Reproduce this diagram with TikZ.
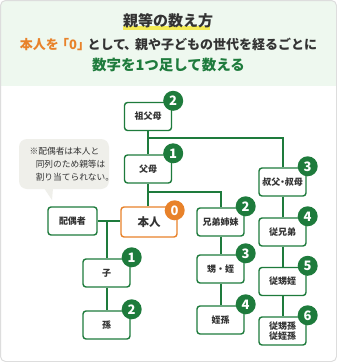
\documentclass[tikz,border=0pt]{standalone}
\usepackage{fontspec}
\newfontfamily\jp{Noto Sans CJK JP}
\definecolor{gr}{HTML}{1E7B3C}
\definecolor{orng}{HTML}{E8822A}
\definecolor{hdr}{HTML}{EEF8EF}
\definecolor{txt}{HTML}{333333}
\definecolor{callbg}{HTML}{EFEFEA}
\definecolor{hl}{HTML}{F3EB55}
\definecolor{bord}{HTML}{DDDDDD}
\begin{document}
\begin{tikzpicture}[x=1pt,y=-1pt,
 box/.style={draw=gr, line width=1.4pt, rounded corners=3pt, fill=white, minimum width=47pt, minimum height=28pt, inner sep=0pt, font=\jp\bfseries\fontsize{9}{10}\selectfont, text=txt, align=center},
 badge/.style={circle, fill=gr, text=white, minimum size=20pt, inner sep=0pt, font=\jp\bfseries\fontsize{13}{13}\selectfont},
 link/.style={draw=gr, line width=2pt}]
\useasboundingbox (0,0) rectangle (337,362);
\begin{scope}
\clip[rounded corners=5pt] (0.5,0.5) rectangle (336.5,361.5);
\fill[white] (0,0) rectangle (337,362);
\fill[hdr] (0,0) rectangle (337,86);
\end{scope}
\draw[bord, line width=1pt, rounded corners=5pt] (0.5,0.5) rectangle (336.5,361.5);
% header
\fill[hl] (123,26) rectangle (210,30);
\node[font=\jp\bfseries\fontsize{15}{15}\selectfont, text=txt] (title) at (168,21) {親等の数え方};
\node[font=\jp\bfseries\fontsize{13}{13}\selectfont, text=txt] (l2) at (168.5,44) {\textcolor{orng}{本人を\kern-0.2em「0」\kern-0.2em}として\kern-0.15em、\kern-0.15em親や子どもの世代を経るごとに};
\node[font=\jp\bfseries\fontsize{14.5}{14.5}\selectfont, text=gr] (l3) at (168.5,65) {数字を1つ足して数える};
% callout
\fill[callbg, rounded corners=8pt] (19,139) rectangle (109,189);
\fill[callbg] (44,188) -- (53,188) -- (52,200) -- cycle;
\node[anchor=north west, font=\jp\fontsize{8.7}{13}\selectfont, text=txt, align=left, inner sep=0pt] (note) at (29.5,147) {※配偶者は本人と\\\hspace{0.7em}同列のため親等は\\\hspace{0.7em}割り当てられない。};
% boxes
\node[box] (gp) at (148,116.5) {祖父母};
\node[box] (p) at (148,169) {父母};
\node[box, draw=orng, minimum width=56pt, minimum height=30pt, font=\jp\bfseries\fontsize{11.5}{12}\selectfont] (me) at (149,222) {本人};
\node[box, minimum width=49pt] (sp) at (72.5,221) {配偶者};
\node[box] (ch) at (106.5,273) {子};
\node[box] (gc) at (106.5,325) {孫};
\node[box] (sib) at (220.5,222) {兄弟姉妹};
\node[box] (nep) at (220.5,269) {甥・姪};
\node[box] (gnep) at (220.5,320) {姪孫};
\node[box] (unc) at (282.5,182) {叔父\kern-0.25em・\kern-0.25em叔母};
\node[box] (cou) at (282.5,232) {従兄弟};
\node[box] (cch) at (282.5,281.5) {従甥姪};
\node[box] (cgc) at (282.5,331) {従甥孫\\従姪孫};
% badges
\node[badge] (bgp) at ([shift={(1,-1)}]gp.north east) {2};
\node[badge] (bp) at ([shift={(1,-1)}]p.north east) {1};
\node[badge, fill=orng] (bme) at ([shift={(-3,4)}]me.north east) {0};
\node[badge] (bch) at ([shift={(1,-1)}]ch.north east) {1};
\node[badge] (bgc) at ([shift={(1,-1)}]gc.north east) {2};
\node[badge] (bsib) at ([shift={(1,-1)}]sib.north east) {2};
\node[badge] (bnep) at ([shift={(1,-1)}]nep.north east) {3};
\node[badge] (bgnep) at ([shift={(1,-1)}]gnep.north east) {4};
\node[badge] (bunc) at ([shift={(1,-1)}]unc.north east) {3};
\node[badge] (bcou) at ([shift={(1,-1)}]cou.north east) {4};
\node[badge] (bcch) at ([shift={(1,-1)}]cch.north east) {5};
\node[badge] (bcgc) at ([shift={(1,-1)}]cgc.north east) {6};
% connectors
\coordinate (j1) at (148,138);
\coordinate (j2) at (148,192);
\coordinate (j3) at (ch.north |- sp.east);
\draw[link] (gp.south) -- (p.north);
\draw[link] (p.south) -- (p.south |- me.north);
\draw[link] (j1) -| (unc.north);
\draw[link] (j2) -| (sib.north);
\draw[link] (sp.east) -- (sp.east -| me.west);
\draw[link] (j3) -- (ch.north);
\draw[link] (ch.south) -- (gc.north);
\draw[link] (sib.south) -- (nep.north);
\draw[link] (nep.south) -- (gnep.north);
\draw[link] (unc.south) -- (cou.north);
\draw[link] (cou.south) -- (cch.north);
\draw[link] (cch.south) -- (cgc.north);
\end{tikzpicture}
\end{document}
